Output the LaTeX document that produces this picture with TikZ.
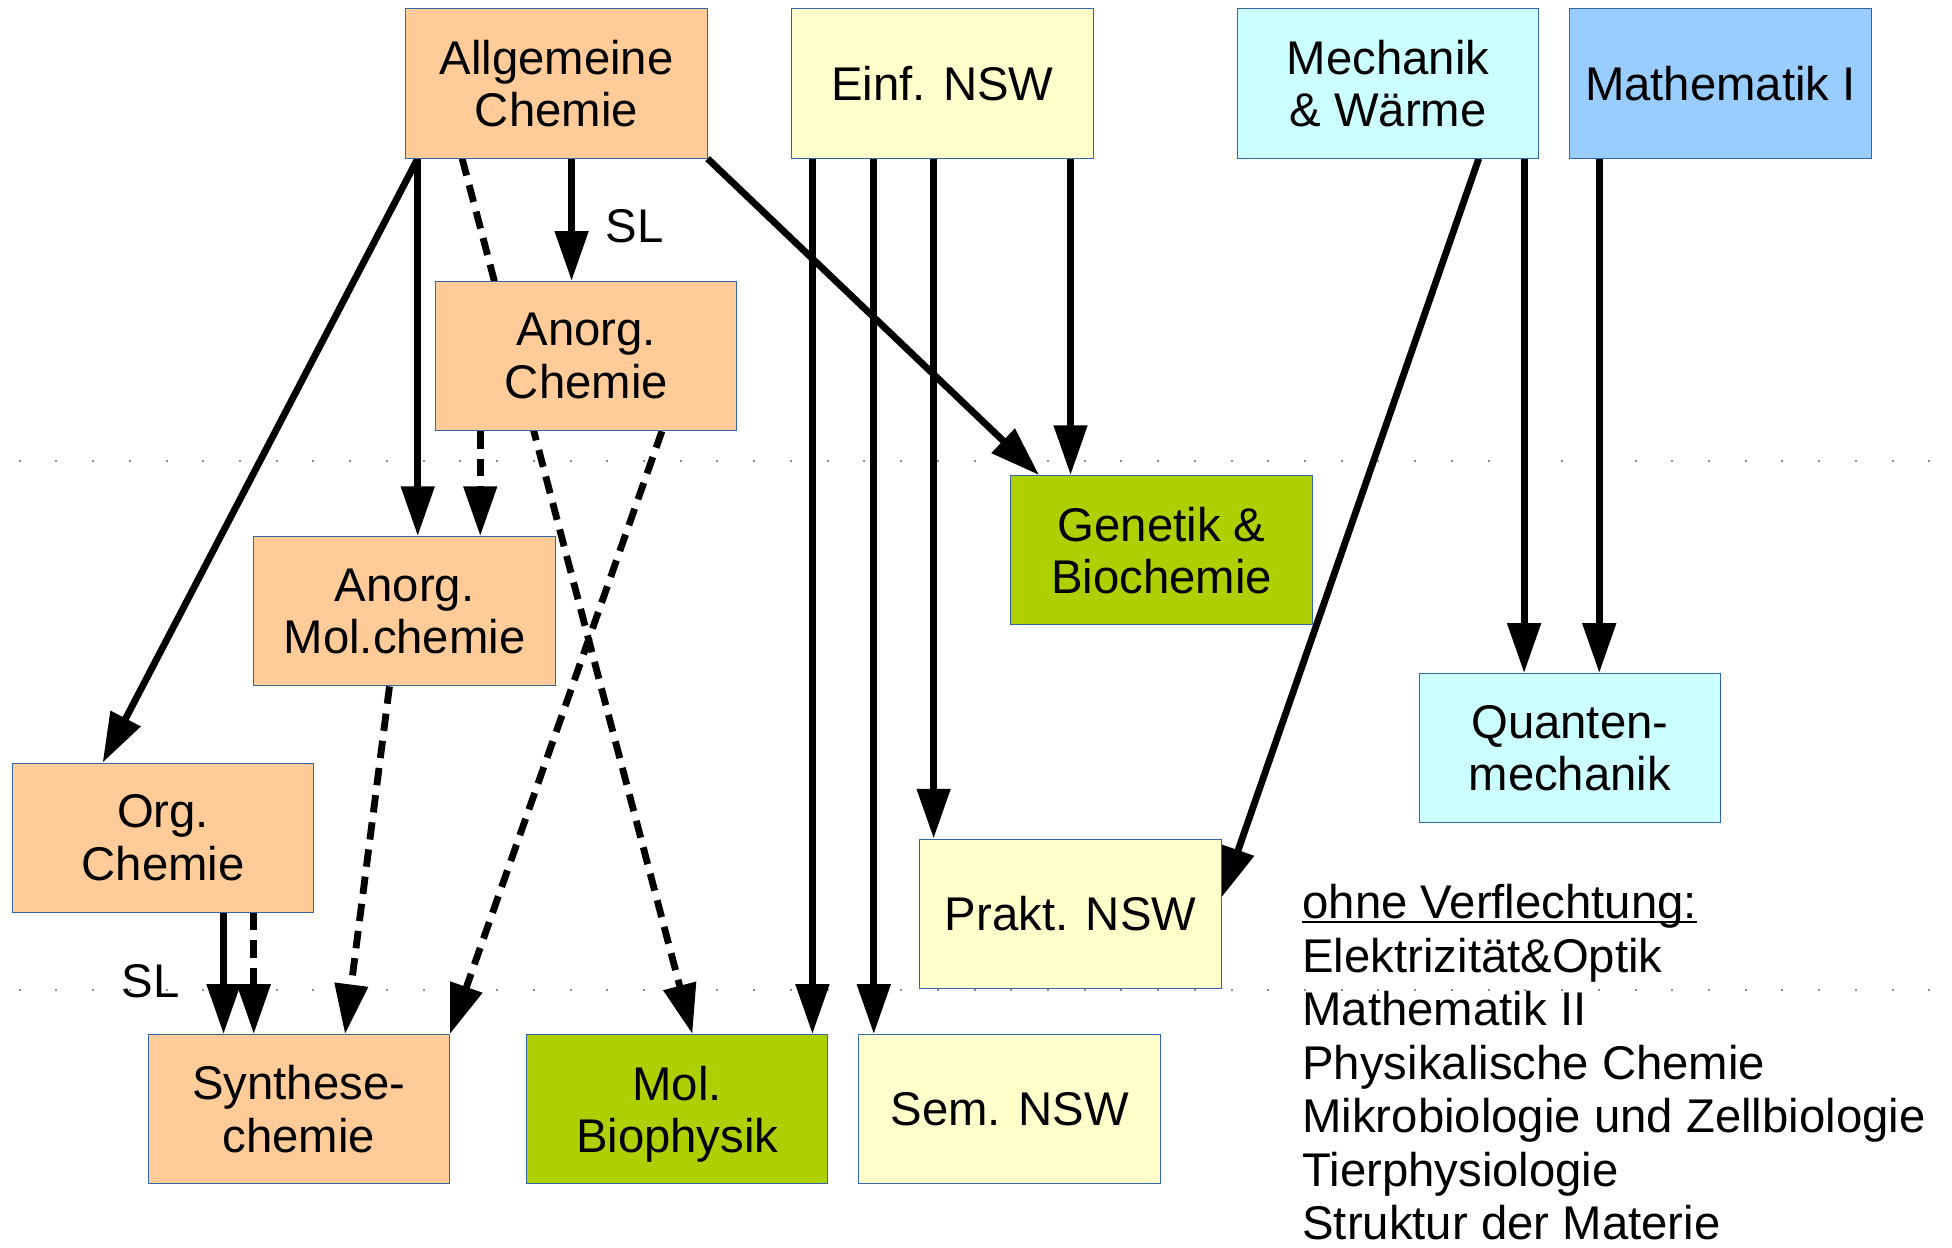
\documentclass[tikz,border=0pt]{standalone}
\usepackage{fontspec}
\setmainfont{Liberation Sans}
\usetikzlibrary{arrows.meta,calc}
\definecolor{peach}{HTML}{FFCC99}
\definecolor{paleyellow}{HTML}{FFFFCC}
\definecolor{palecyan}{HTML}{CCFFFF}
\definecolor{paleblue}{HTML}{99CCFF}
\definecolor{limegreen}{HTML}{AFD000}
\definecolor{boxline}{HTML}{3465A4}
\pgfdeclarelayer{bg}
\pgfsetlayers{bg,main}
\begin{document}
\begin{tikzpicture}[x=1pt,y=-1pt,
  box/.style={draw=boxline, line width=0.8pt, minimum width=242pt, minimum height=120pt,
    inner sep=0pt, align=center, font=\fontsize{38}{42}\selectfont},
  arr/.style={line width=5.5pt, -{Triangle[length=40pt,width=26pt]}},
  dsh/.style={arr, dash pattern=on 14pt off 8pt},
  lbl/.style={font=\fontsize{38}{43}\selectfont, inner sep=0pt},
  guide/.style={black!45, line width=1.6pt, dash pattern=on 1.6pt off 27.9pt}]

\useasboundingbox (0,0) rectangle (1568,1002);

% boxes
\node[box, fill=peach]      (allg)   at (447,67)  {Allgemeine\\Chemie};
\node[box, fill=paleyellow] (einf)   at (757,67)  {Einf. NSW};
\node[box, fill=palecyan]   (mech)   at (1115,67) {Mechanik\\\& Wärme};
\node[box, fill=paleblue]   (math)   at (1382,67) {Mathematik I};
\node[box, fill=peach]      (anorg)  at (471,286) {Anorg.\\Chemie};
\node[box, fill=peach]      (molc)   at (325,491) {Anorg.\\Mol.chemie};
\node[box, fill=limegreen]  (gen)    at (933,442) {Genetik \&\\Biochemie};
\node[box, fill=palecyan]   (quant)  at (1261,601) {Quanten-\\mechanik};
\node[box, fill=peach]      (org)    at (131,673) {Org.\\Chemie};
\node[box, fill=paleyellow] (prakt)  at (860,734) {Prakt. NSW};
\node[box, fill=peach]      (synth)  at (240,891) {Synthese-\\chemie};
\node[box, fill=limegreen]  (molbio) at (544,891) {Mol.\\\raisebox{0pt}[\height][0pt]{Biophysik}};
\node[box, fill=paleyellow] (sem)    at (811,891) {Sem. NSW};

% labels
\node[lbl] (sl1) at (510,182) {SL};
\node[lbl] (sl2) at (121,788) {SL};

% list
\node[lbl, anchor=base west] (ov) at (1046,738) {ohne Verflechtung:};
\draw[line width=1.6pt] ([yshift=-3pt]ov.base west) -- ([yshift=-3pt]ov.base east);
\node[lbl, anchor=base west] (l1) at (1046,781) {Elektrizität\&Optik};
\node[lbl, anchor=base west] (l2) at (1046,824) {Mathematik II};
\node[lbl, anchor=base west] (l3) at (1046,867) {Physikalische Chemie};
\node[lbl, anchor=base west] (l4) at (1046,910) {Mikrobiologie und Zellbiologie};
\node[lbl, anchor=base west] (l5) at (1046,953) {Tierphysiologie};
\node[lbl, anchor=base west] (l6) at (1046,996) {Struktur der Materie};

\begin{pgfonlayer}{bg}
% guide lines
\coordinate (g1a) at (15,370);  \coordinate (g1b) at (1550,370);
\coordinate (g2a) at (15,795);  \coordinate (g2b) at (1550,795);
\draw[guide] (g1a) -- (g1b);
\draw[guide] (g2a) -- (g2b);

% Allgemeine Chemie
\draw[arr] ($(allg.south west)!0.041!(allg.south east)$) -- ($(org.north west)!0.30!(org.north east)$);
\draw[arr] ($(allg.south west)!0.041!(allg.south east)$) coordinate (a2) -- (a2 |- molc.north);
\draw[arr] ($(allg.south west)!0.55!(allg.south east)$) coordinate (a3) -- (a3 |- anorg.north);
\draw[dsh] ($(allg.south west)!0.188!(allg.south east)$) -- ($(molbio.north west)!0.55!(molbio.north east)$);
\draw[arr] (allg.south east) -- ($(gen.north west)!0.095!(gen.north east)$);

% Einf. NSW
\draw[arr] ($(einf.south west)!0.070!(einf.south east)$) coordinate (e1) -- (e1 |- molbio.north);
\draw[arr] ($(einf.south west)!0.273!(einf.south east)$) coordinate (e2) -- (e2 |- sem.north);
\draw[arr] ($(einf.south west)!0.471!(einf.south east)$) coordinate (e3) -- (e3 |- prakt.north);
\draw[arr] ($(einf.south west)!0.924!(einf.south east)$) coordinate (e4) -- (e4 |- gen.north);

% Mechanik & Waerme, Mathematik I
\draw[arr] ($(mech.south west)!0.80!(mech.south east)$) -- ($(prakt.north east)!0.39!(prakt.south east)$);
\draw[arr] ($(mech.south west)!0.95!(mech.south east)$) coordinate (m1) -- (m1 |- quant.north);
\draw[arr] ($(math.south west)!0.099!(math.south east)$) coordinate (m2) -- (m2 |- quant.north);

% Anorg. Chemie
\draw[dsh] ($(anorg.south west)!0.149!(anorg.south east)$) coordinate (n1) -- (n1 |- molc.north);
\draw[dsh] ($(anorg.south west)!0.75!(anorg.south east)$) -- (synth.north east);

% Anorg. Mol.chemie
\draw[dsh] ($(molc.south west)!0.45!(molc.south east)$) -- ($(synth.north west)!0.653!(synth.north east)$);

% Org. Chemie
\draw[arr] ($(org.south west)!0.70!(org.south east)$) coordinate (o1) -- (o1 |- synth.north);
\draw[dsh] ($(org.south west)!0.80!(org.south east)$) coordinate (o2) -- (o2 |- synth.north);
\end{pgfonlayer}
\end{tikzpicture}
\end{document}
